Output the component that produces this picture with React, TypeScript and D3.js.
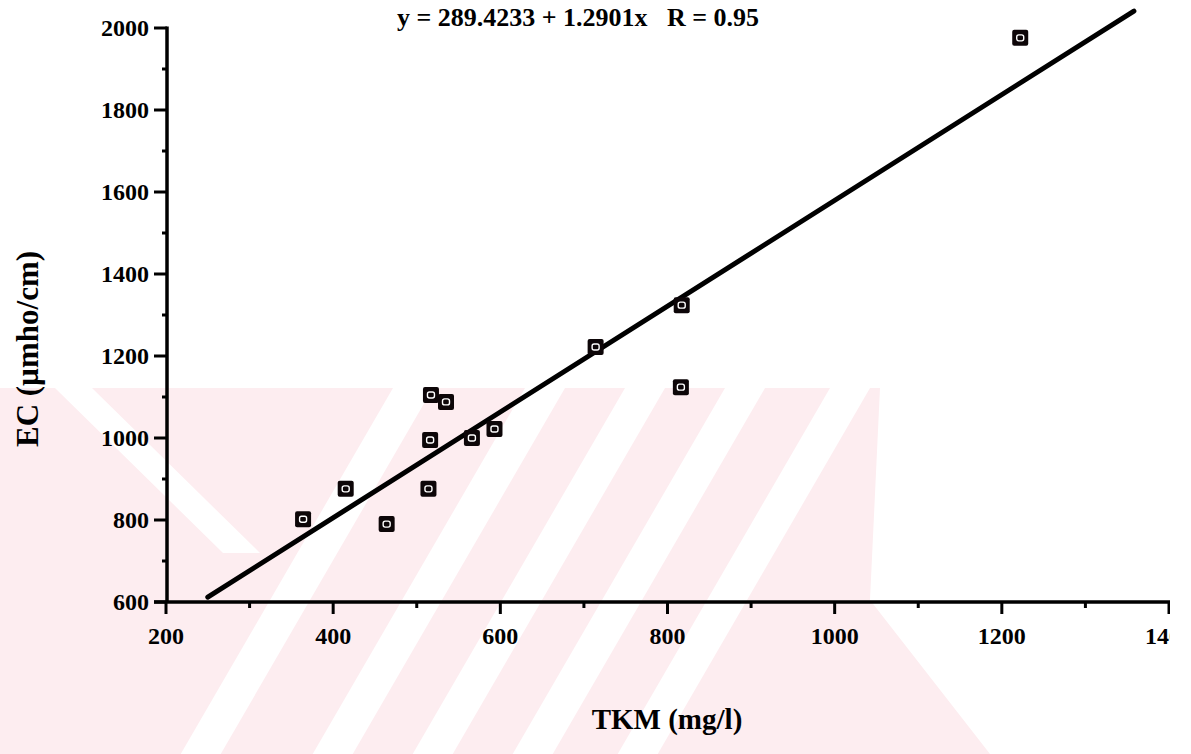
import React from "react";
import * as d3 from "d3";

const W = 1191;
const H = 754;

// TKM (mg/l) vs EC (µmho/cm)
const tkm = [364, 415, 464, 517, 535, 516, 514, 566, 593, 714, 817, 816, 1222];
const ec = [802, 876, 790, 1105, 1088, 995, 876, 1000, 1022, 1222, 1324, 1124, 1976];

const xMajorTicks = [200, 400, 600, 800, 1000, 1200, 1400];
const xMinorTicks = [300, 500, 700, 900, 1100, 1300];
const yMajorTicks = [600, 800, 1000, 1200, 1400, 1600, 1800, 2000];
const yMinorTicks = [700, 900, 1100, 1300, 1500, 1700, 1900];

const intercept = 289.4233;
const slope = 1.2901;
const fitRange = [250, 1358];

const titleText = "y = 289.4233 + 1.2901x   R = 0.95";
const xLabel = "TKM (mg/l)";
const yLabel = "EC (\u00b5mho/cm)";

const FONT = "'Liberation Serif', 'Times New Roman', serif";

export default function App() {
  const x = d3.scaleLinear().domain([200, 1400]).range([166, 1169]);
  const y = d3.scaleLinear().domain([600, 2000]).range([602, 28]);

  const fitLine = d3
    .line<number>()
    .x((d) => x(d))
    .y((d) => y(intercept + slope * d));

  // watermark stripes (decorative background)
  const pink = "#fdedf0";
  const wmTop = 388;
  const run = 0.58;
  const slashCenters = [413, 545, 645, 745, 850];
  const sw = 20;
  const depth = H - wmTop;

  return (
    <svg
      width={W}
      height={H}
      style={{ position: "absolute", left: 0, top: 0, background: "#fff" }}
      xmlns="http://www.w3.org/2000/svg"
    >
      <defs>
        <clipPath id="wm">
          <polygon points={`0,${wmTop} 880,${wmTop} 870,600 990,${H} 0,${H}`} />
        </clipPath>
        <clipPath id="edge">
          <rect x={0} y={0} width={1170} height={H} />
        </clipPath>
      </defs>

      {/* watermark */}
      <g clipPath="url(#wm)">
        <rect x={0} y={wmTop} width={1000} height={depth} fill={pink} />
        {slashCenters.map((c, i) => (
          <polygon
            key={"s" + i}
            fill="#fff"
            points={`${c - sw},${wmTop} ${c + sw},${wmTop} ${c + sw - run * depth},${H} ${c - sw - run * depth},${H}`}
          />
        ))}
        <polygon
          fill="#fff"
          points={`55,${wmTop} 92,${wmTop} 260,${wmTop + 165} 223,${wmTop + 165}`}
        />
      </g>

      {/* title */}
      <text
        x={578}
        y={26}
        textAnchor="middle"
        fontFamily={FONT}
        fontWeight="bold"
        fontSize={26}
        style={{ whiteSpace: "pre" }}
      >
        {titleText}
      </text>

      {/* axes */}
      <line x1={167} x2={167} y1={y(2000) - 1.5} y2={y(600) + 1} stroke="#000" strokeWidth={3.5} />
      <line x1={154} x2={1170} y1={y(600)} y2={y(600)} stroke="#000" strokeWidth={3.5} />

      {/* y ticks */}
      {yMajorTicks.map((t) => (
        <g key={"ym" + t}>
          <line x1={154} x2={167} y1={y(t)} y2={y(t)} stroke="#000" strokeWidth={3} />
          <text
            x={149}
            y={y(t)}
            dy="0.35em"
            textAnchor="end"
            fontFamily={FONT}
            fontWeight="bold"
            fontSize={24}
          >
            {t}
          </text>
        </g>
      ))}
      {yMinorTicks.map((t) => (
        <line key={"yn" + t} x1={162} x2={167} y1={y(t)} y2={y(t)} stroke="#000" strokeWidth={3} />
      ))}

      {/* x ticks */}
      <g clipPath="url(#edge)">
        {xMajorTicks.map((t) => (
          <g key={"xm" + t}>
            <line x1={x(t)} x2={x(t)} y1={y(600)} y2={y(600) + 12} stroke="#000" strokeWidth={3} />
            <text
              x={x(t)}
              y={644}
              textAnchor="middle"
              fontFamily={FONT}
              fontWeight="bold"
              fontSize={24}
            >
              {t}
            </text>
          </g>
        ))}
        {xMinorTicks.map((t) => (
          <line key={"xn" + t} x1={x(t)} x2={x(t)} y1={y(600)} y2={y(600) + 6} stroke="#000" strokeWidth={3} />
        ))}
      </g>

      {/* regression line */}
      <path d={fitLine(fitRange) || ""} fill="none" stroke="#000" strokeWidth={5} strokeLinecap="round" />

      {/* points */}
      {tkm.map((v, i) => (
        <g key={"p" + i} transform={`translate(${x(v)},${y(ec[i])})`}>
          <rect x={-8} y={-8} width={16} height={16} rx={2} fill="#0d0608" />
          <rect x={-3.5} y={-3} width={7} height={6} rx={2} fill="none" stroke="#fff" strokeWidth={1.4} />
        </g>
      ))}

      {/* axis labels */}
      <text
        x={667}
        y={729}
        textAnchor="middle"
        fontFamily={FONT}
        fontWeight="bold"
        fontSize={29}
      >
        {xLabel}
      </text>
      <text
        transform={`translate(38,349) rotate(-90)`}
        textAnchor="middle"
        fontFamily={FONT}
        fontWeight="bold"
        fontSize={31}
      >
        {yLabel}
      </text>
    </svg>
  );
}
